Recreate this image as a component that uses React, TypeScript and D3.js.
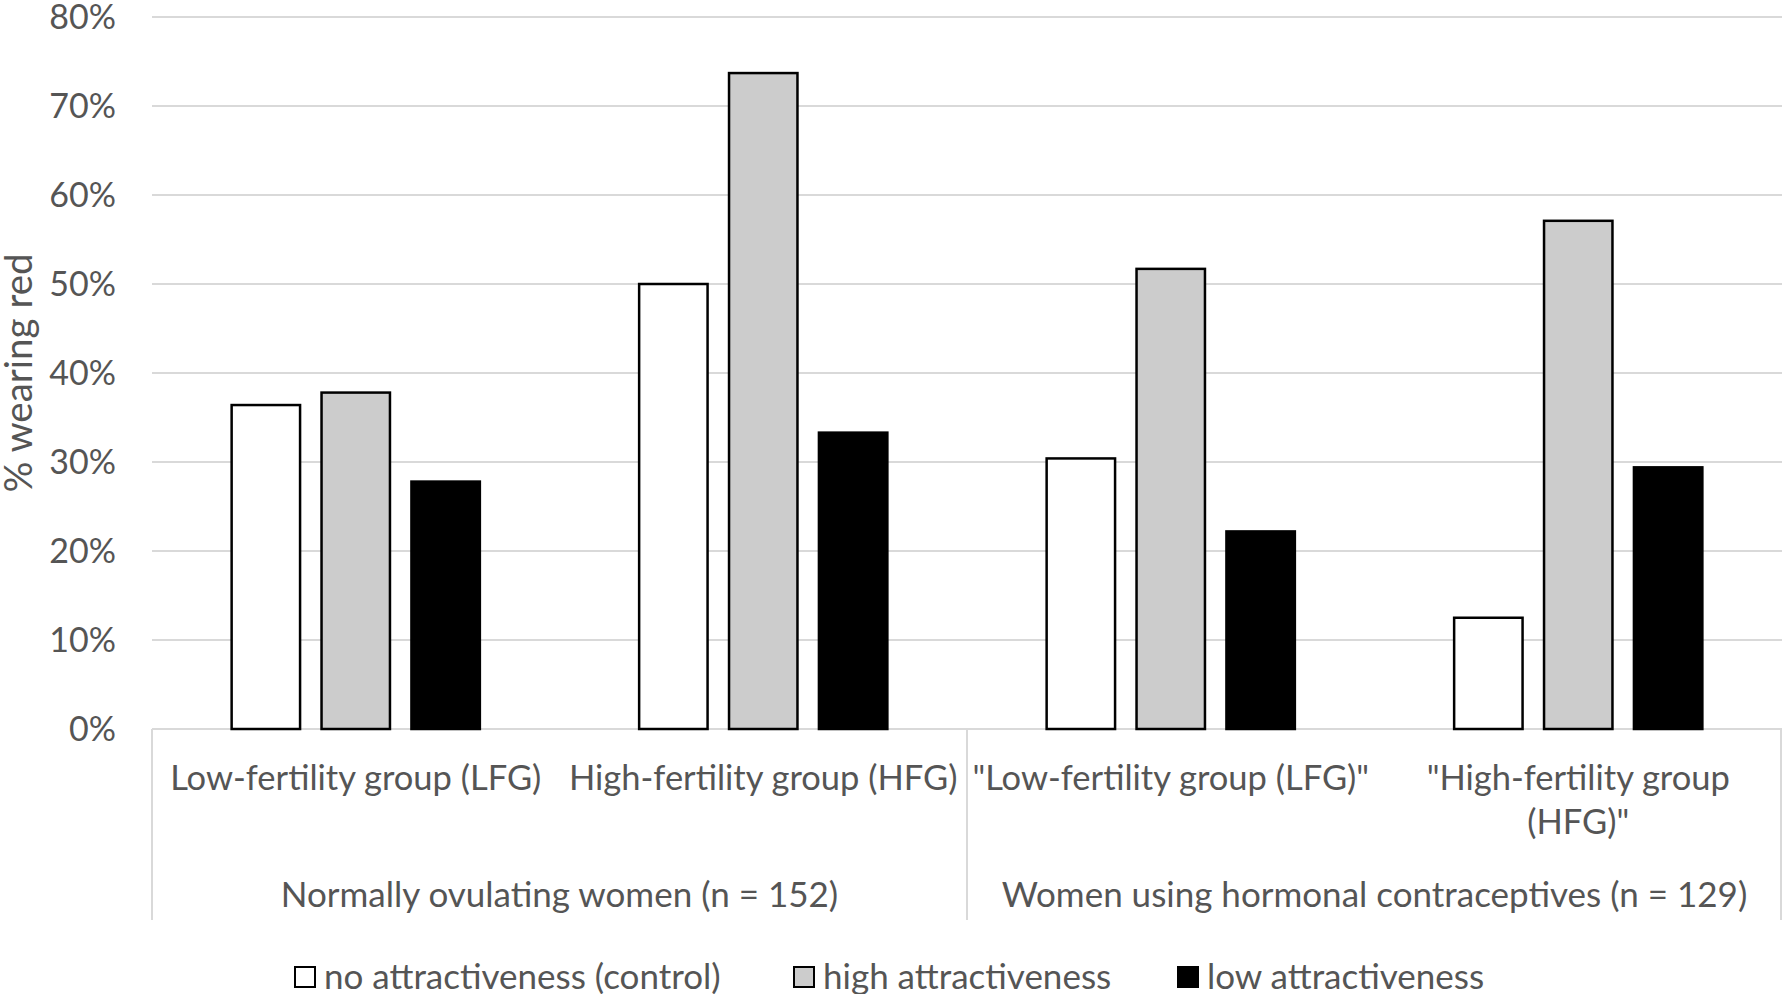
import React from 'react';
import * as d3 from 'd3';

const categoryLines: string[][] = [
  ['Low-fertility group (LFG)'],
  ['High-fertility group (HFG)'],
  ['"Low-fertility group (LFG)"'],
  ['"High-fertility group', '(HFG)"'],
];
const groupLabels = ['Normally ovulating women (n = 152)', 'Women using hormonal contraceptives (n = 129)'];
const groupSpan = 2;
const seriesNames = ['no attractiveness (control)', 'high attractiveness', 'low attractiveness'];
const seriesFill = ['#ffffff', '#cccccc', '#000000'];
const controlValues = [36.4, 50.0, 30.4, 12.5];
const highValues = [37.8, 73.7, 51.7, 57.1];
const lowValues = [27.8, 33.3, 22.2, 29.4];
const yTicks = [0, 10, 20, 30, 40, 50, 60, 70, 80];
const yTitle = '% wearing red';

const W = 1784;
const H = 994;
const FONT = 'Lato, "Open Sans", sans-serif';
const TXT = '#555555';
const GRID = '#d9d9d9';

export default function App() {
  const series = [controlValues, highValues, lowValues];
  const left = 152;
  const right = 1782;
  const top = 17;
  const bottom = 729;
  const axisBottom = 920;

  const x0 = d3.scaleBand<number>().domain(d3.range(categoryLines.length)).range([left, right]).paddingInner(0).paddingOuter(0);
  const x1 = d3.scaleBand<number>().domain(d3.range(series.length)).range([0, x0.bandwidth()]).paddingInner(0.211).paddingOuter(0.872);
  const y = d3.scaleLinear().domain([0, 80]).range([bottom, top]);

  const legendX = [295, 794, 1178];
  const legendY = 967;

  return (
    <svg width={W} height={H} style={{ position: 'absolute', left: 0, top: 0, background: '#fff' }} fontFamily={FONT}>
      <rect x={0} y={0} width={W} height={H} fill="#fff" />
      {yTicks.map((t) => (
        <g key={t}>
          <line x1={left} x2={right} y1={y(t)} y2={y(t)} stroke={GRID} strokeWidth={2} />
          <text x={116} y={y(t)} dy="0.36em" textAnchor="end" fontSize={34} fill={TXT}>{t}%</text>
        </g>
      ))}
      {d3.range(0, categoryLines.length + 1, groupSpan).map((i) => {
        const xx = i === categoryLines.length ? right - 1 : (x0(i) as number);
        return <line key={i} x1={xx} x2={xx} y1={bottom} y2={axisBottom} stroke={GRID} strokeWidth={2} />;
      })}
      {categoryLines.map((_, ci) =>
        series.map((vals, si) => {
          const bx = (x0(ci) as number) + (x1(si) as number);
          return (
            <rect
              key={`${ci}-${si}`}
              x={bx + 1.25}
              y={y(vals[ci])}
              width={x1.bandwidth() - 2.5}
              height={bottom - y(vals[ci])}
              fill={seriesFill[si]}
              stroke="#000"
              strokeWidth={2.5}
            />
          );
        })
      )}
      {categoryLines.map((lines, ci) => (
        <text key={ci} x={(x0(ci) as number) + x0.bandwidth() / 2} y={790} textAnchor="middle" fontSize={34.5} fill={TXT}>
          {lines.map((l, li) => (
            <tspan key={li} x={(x0(ci) as number) + x0.bandwidth() / 2} dy={li === 0 ? 0 : 44}>{l}</tspan>
          ))}
        </text>
      ))}
      {groupLabels.map((g, gi) => {
        const s = x0(gi * groupSpan) as number;
        const e = s + x0.bandwidth() * groupSpan;
        return (
          <text key={gi} x={(s + e) / 2} y={907} textAnchor="middle" fontSize={35} fill={TXT}>{g}</text>
        );
      })}
      <text transform={`translate(19,${(top + bottom) / 2}) rotate(-90)`} textAnchor="middle" dy="0.35em" fontSize={38.5} fill={TXT}>{yTitle}</text>
      {seriesNames.map((n, i) => (
        <g key={n}>
          <rect x={legendX[i]} y={legendY} width={20} height={20} fill={seriesFill[i]} stroke="#000" strokeWidth={2} />
          <text x={legendX[i] + 29} y={legendY + 10} dy="0.34em" fontSize={35} fill={TXT}>{n}</text>
        </g>
      ))}
    </svg>
  );
}
